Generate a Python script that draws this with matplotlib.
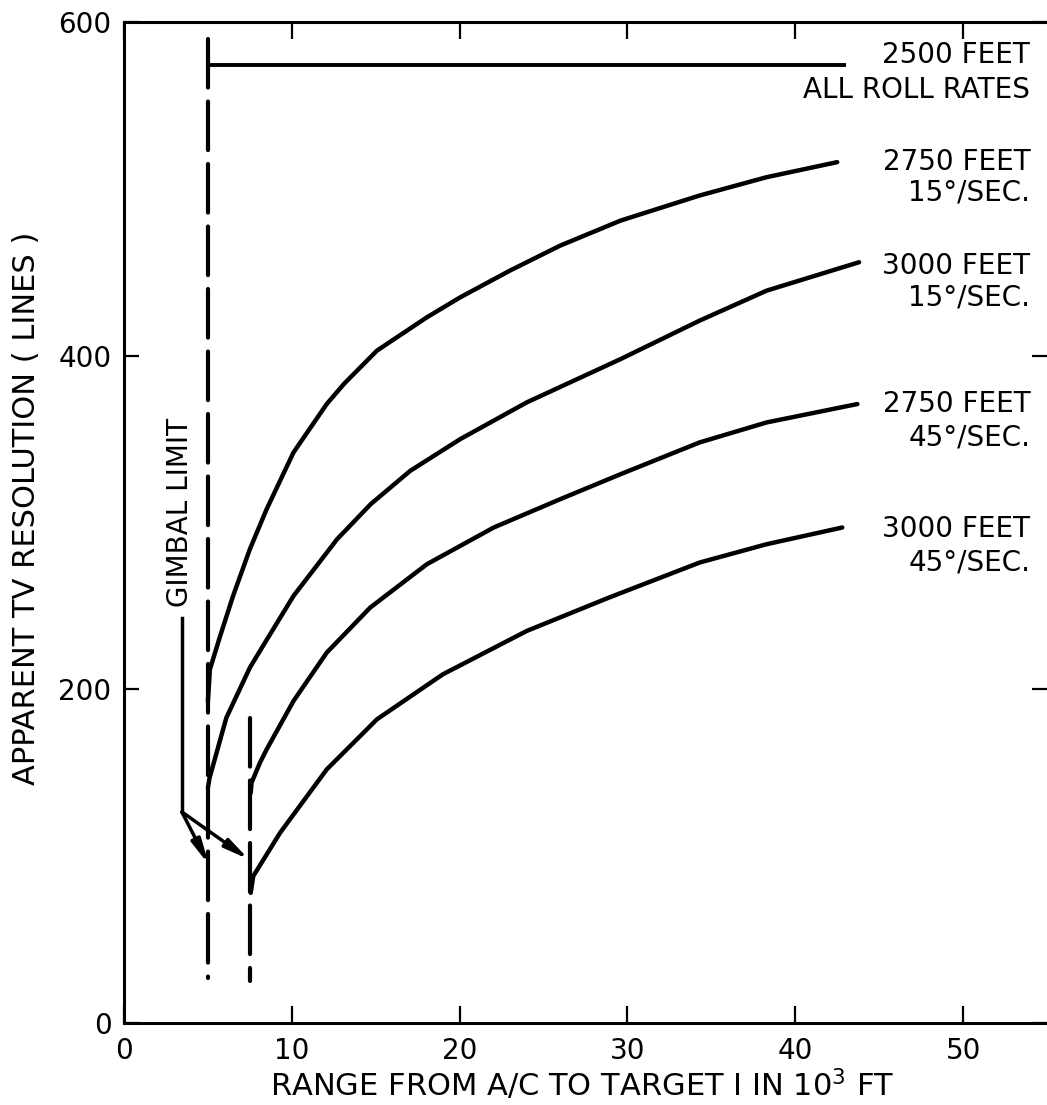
import matplotlib
matplotlib.use("Agg")
import matplotlib.pyplot as plt

plt.rcParams['font.family'] = ['DejaVu Sans']
plt.rcParams['lines.scale_dashes'] = False

# ---- data (range in 10^3 ft, resolution in lines) ----
x_2750_15 = [5.0, 5.12, 5.7, 6.5, 7.5, 8.5, 10.1, 12.08, 13.1, 15.07, 18.05, 20.04, 23.0,
             26.0, 29.6, 34.3, 38.3, 42.5]
y_2750_15 = [193, 212, 231, 256, 284, 308, 342, 371, 383, 403, 423, 435, 451,
             466, 481, 496, 507, 516]

x_3000_15 = [5.0, 5.1, 6.1, 7.5, 8.1, 10.1, 12.7, 14.7, 17.06, 20.04, 24.0,
             29.6, 34.3, 38.3, 43.8]
y_3000_15 = [141, 147, 183, 213, 223, 256, 290, 311, 331, 350, 372,
             398, 421, 439, 456]

x_2750_45 = [7.55, 7.6, 8.1, 8.5, 10.1, 12.08, 14.67, 18.05, 22.03, 26.0, 29.6, 34.3, 38.3, 43.7]
y_2750_45 = [138, 144, 156, 164, 193, 222, 249, 275, 297, 314, 329, 348, 360, 371]

x_3000_45 = [7.55, 7.7, 8.5, 9.3, 12.08, 15.07, 19.0, 24.0, 28.9, 34.3, 38.3, 42.8]
y_3000_45 = [78, 88, 101, 114, 152, 182, 209, 235, 255, 276, 287, 297]

x_2500_all = [5.0, 43.0]
y_2500_all = [574, 574]

gimbal_limits = [5.0, 7.5]
gimbal_top = [590, 183]
gimbal_bottom = [27, 25]

leader_x = 3.45
leader_y = [126.5, 243]
arrow_tips = [(5.05, 95), (7.45, 98)]

x_ticks = [0, 10, 20, 30, 40, 50]
y_ticks = [0, 200, 400, 600]

labels = [
    ("2500 FEET", 580), ("ALL ROLL RATES", 559),
    ("2750 FEET", 516), ("15°/SEC.", 498),
    ("3000 FEET", 454), ("15°/SEC.", 435),
    ("2750 FEET", 371), ("45°/SEC.", 351),
    ("3000 FEET", 296), ("45°/SEC.", 276),
]

# ---- figure ----
W, H = 1047, 1105
fig = plt.figure(figsize=(W / 100, H / 100), dpi=100)
ax = fig.add_axes([124 / W, 1 - 1023 / H, (W - 124) / W, (1023 - 22) / H])
ax.set_xlim(0, 55)
ax.set_ylim(0, 600)

for s in ['left', 'bottom', 'top']:
    ax.spines[s].set_linewidth(2.2)
ax.spines['right'].set_visible(False)

ax.set_xticks(x_ticks)
ax.set_xticklabels([str(v) for v in x_ticks])
ax.set_yticks(y_ticks)
ax.set_yticklabels([str(v) for v in y_ticks])
ax.tick_params(axis='x', direction='in', top=True, bottom=True, length=12, width=1.6,
               labelsize=20, pad=10)
ax.tick_params(axis='y', direction='in', left=True, right=True, length=11, width=1.6,
               labelsize=20, pad=9)

lw = 3.2
for xs, ys in [(x_2750_15, y_2750_15), (x_3000_15, y_3000_15),
               (x_2750_45, y_2750_45), (x_3000_45, y_3000_45)]:
    ax.plot(xs, ys, color='black', lw=lw, solid_capstyle='round',
            solid_joinstyle='round')
ax.plot(x_2500_all, y_2500_all, color='black', lw=2.8, solid_capstyle='butt')

for gx, gt, gb in zip(gimbal_limits, gimbal_top, gimbal_bottom):
    ax.plot([gx, gx], [gt, gb], color='black', lw=3.0, dashes=(35, 10),
            dash_capstyle='round')

# gimbal limit leader and arrows
ax.plot([leader_x, leader_x], leader_y, color='black', lw=2.5)
for tx, ty in arrow_tips:
    ax.annotate('', xy=(tx, ty), xytext=(leader_x, leader_y[0]),
                arrowprops=dict(arrowstyle='-|>,head_length=0.9,head_width=0.18',
                                lw=2.5, color='black', shrinkA=0, shrinkB=0,
                                mutation_scale=16))
ax.text(3.34, 306, "GIMBAL LIMIT", rotation=90, ha='center', va='center',
        fontsize=20, color='black')

for txt, yy in labels:
    ax.text(54.0, yy, txt, ha='right', va='center', fontsize=20, color='black',
            clip_on=False)

fig.text(27 / W, 1 - 508 / H, "APPARENT TV RESOLUTION ( LINES )", rotation=90,
         ha='center', va='center', fontsize=22)
fig.text(582 / W, 1 - 1085 / H, r"RANGE FROM A/C TO TARGET I IN 10$^{3}$ FT",
         ha='center', va='center', fontsize=22)

fig.savefig("out.png", dpi=100)
